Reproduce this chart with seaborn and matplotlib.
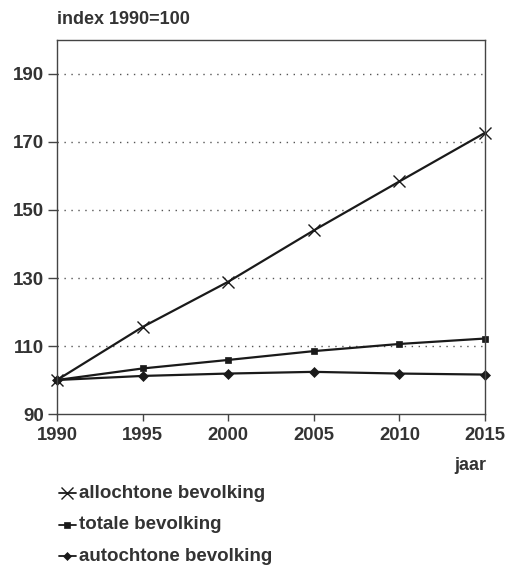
import matplotlib
matplotlib.use("Agg")
import matplotlib.pyplot as plt
import seaborn as sns
import pandas as pd

years = [1990, 1995, 2000, 2005, 2010, 2015]
allochtoon = [100, 115.6, 128.9, 144.0, 158.4, 172.7]
totaal = [100, 103.4, 105.9, 108.5, 110.6, 112.2]
autochtoon = [100, 101.2, 101.9, 102.4, 101.9, 101.6]
series_names = ["allochtone bevolking", "totale bevolking", "autochtone bevolking"]
markers = ["x", "s", "D"]
yticks = [90, 110, 130, 150, 170, 190]

sns.set_theme(style="white")
plt.rcParams['font.family'] = ['Liberation Sans', 'DejaVu Sans']
plt.rcParams['font.weight'] = 'bold'

df = pd.DataFrame({
    "jaar": years * 3,
    "index": allochtoon + totaal + autochtoon,
    "reeks": [series_names[0]] * 6 + [series_names[1]] * 6 + [series_names[2]] * 6,
})

fig = plt.figure(figsize=(5.05, 5.68), dpi=100)
ax = fig.add_axes([0.1129, 0.2711, 0.8475, 0.6585])

tc = "#333333"
sizes = [9, 5, 5]
for name, mk, ms in zip(series_names, markers, sizes):
    sub = df[df["reeks"] == name]
    sns.lineplot(data=sub, x="jaar", y="index", ax=ax, color="#1a1a1a", lw=1.6,
                 marker=mk, markersize=ms, markeredgewidth=1.0 if mk == "x" else 0.5,
                 markeredgecolor="#1a1a1a", legend=False, clip_on=False)

ax.set_xlim(1990, 2015)
ax.set_ylim(90, 200)
ax.set_xticks(years)
ax.set_yticks(yticks)
ax.set_xticklabels([str(y) for y in years], fontsize=13.3, color=tc, fontweight="bold")
ax.set_yticklabels([str(y) for y in yticks], fontsize=13.5, color=tc, fontweight="bold")
ax.set_xlabel("")
ax.set_ylabel("")
for y in yticks[1:]:
    ax.axhline(y, color="#555555", lw=1.0, ls=(0, (1, 4)), zorder=0)
for s in ax.spines.values():
    s.set_color("#444444")
    s.set_linewidth(1.0)
ax.tick_params(axis="y", which="major", direction="out", length=6.5, width=1.0,
               color="#444444", left=True, pad=3)
ax.tick_params(axis="x", which="major", direction="out", length=5, width=1.0,
               color="#444444", bottom=True, pad=4)

fig.text(0.113, 0.966, "index 1990=100", fontsize=13, color=tc, fontweight="bold", va="center")
fig.text(0.963, 0.180, "jaar", fontsize=13, color=tc, fontweight="bold", ha="right", va="center")

# legend
leg_y = [0.132, 0.076, 0.021]
for name, mk, ms, yy in zip(series_names, markers, sizes, leg_y):
    x0, x1 = 0.117, 0.150
    fig.add_artist(plt.Line2D([x0, x1], [yy, yy], color="#1a1a1a", lw=1.3, transform=fig.transFigure))
    fig.add_artist(plt.Line2D([(x0 + x1) / 2], [yy], color="#1a1a1a", marker=mk,
                              markersize=ms - 1, markeredgewidth=1.0 if mk == "x" else 0.5,
                              transform=fig.transFigure))
    fig.text(0.156, yy, name, fontsize=13.5, color=tc, fontweight="bold", va="center")

fig.savefig("out.png", dpi=100)
